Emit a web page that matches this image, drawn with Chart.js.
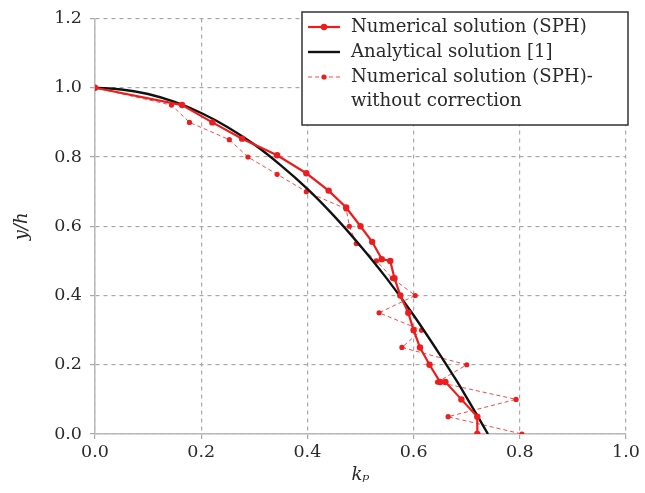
<!DOCTYPE html>
<html>
<head>
<meta charset="utf-8">
<script src="https://cdn.jsdelivr.net/npm/chart.js@4"></script>
<style>
  html, body { margin: 0; padding: 0; background: #fff; }
  #wrap { width: 645px; height: 493px; }
</style>
</head>
<body>
<div id="wrap"><canvas id="profileChart" width="645" height="493"></canvas></div>
<script>
// Numerical solution (SPH)
const sphX = [0, 0.164, 0.221, 0.277, 0.343, 0.398, 0.44, 0.473, 0.50, 0.522, 0.54, 0.556, 0.564, 0.575, 0.59, 0.60, 0.612, 0.63, 0.65, 0.66, 0.69, 0.72, 0.72];
const sphY = [1.0, 0.95, 0.90, 0.853, 0.805, 0.753, 0.703, 0.654, 0.60, 0.555, 0.505, 0.50, 0.45, 0.40, 0.35, 0.30, 0.25, 0.20, 0.15, 0.15, 0.10, 0.05, 0.0];

// Analytical solution [1]
const anaX = [0, 0.05, 0.1, 0.15, 0.2, 0.25, 0.3, 0.35, 0.4, 0.45, 0.5, 0.55, 0.6, 0.65, 0.68, 0.7, 0.72, 0.74];
const anaY = [1.0, 0.995, 0.982, 0.959, 0.927, 0.886, 0.836, 0.776, 0.708, 0.630, 0.543, 0.448, 0.343, 0.228, 0.156, 0.105, 0.053, 0.0];

// Numerical solution (SPH) - without correction
const rawX = [0, 0.144, 0.178, 0.253, 0.288, 0.343, 0.398, 0.473, 0.479, 0.492, 0.53, 0.56, 0.603, 0.535, 0.615, 0.578, 0.70, 0.645, 0.793, 0.665, 0.804];
const rawY = [1.0, 0.95, 0.90, 0.85, 0.80, 0.75, 0.70, 0.65, 0.60, 0.55, 0.50, 0.45, 0.40, 0.35, 0.30, 0.25, 0.20, 0.15, 0.10, 0.05, 0.0];

const xTicks = [0, 0.2, 0.4, 0.6, 0.8, 1.0];
const yTicks = [0, 0.2, 0.4, 0.6, 0.8, 1.0, 1.2];

const legendLabels = ['Numerical solution (SPH)', 'Analytical solution [1]', ['Numerical solution (SPH)-', 'without correction']];

const toPoints = (xs, ys) => xs.map((x, i) => ({ x: x, y: ys[i] }));

const serif = "'DejaVu Serif', 'Liberation Serif', serif";
const gridGray = '#a8a8a8';

// Boxed legend drawn in the top right corner
const boxLegend = {
    id: 'boxLegend',
    afterDraw(chart) {
        const ctx = chart.ctx;
        const x0 = 302, y0 = 12, w = 326, h = 113;
        ctx.save();
        ctx.fillStyle = '#fff';
        ctx.fillRect(x0, y0, w, h);
        ctx.strokeStyle = '#333';
        ctx.lineWidth = 1.5;
        ctx.strokeRect(x0, y0, w, h);

        // size the text so the first label spans the same width as in the original
        ctx.font = "20px " + serif;
        const measured = ctx.measureText(legendLabels[0]).width;
        const size = Math.min(21, 20 * 236 / measured);

        const rows = [27, 52, 77];
        chart.data.datasets.forEach((ds, i) => {
            const y = rows[i];
            ctx.strokeStyle = ds.borderColor;
            ctx.lineWidth = ds.borderWidth;
            ctx.setLineDash(ds.borderDash || []);
            ctx.beginPath();
            ctx.moveTo(308, y);
            ctx.lineTo(340, y);
            ctx.stroke();
            ctx.setLineDash([]);
            if (ds.pointRadius > 0) {
                ctx.fillStyle = ds.pointBackgroundColor;
                ctx.beginPath();
                ctx.arc(324, y, ds.pointRadius, 0, Math.PI * 2);
                ctx.fill();
            }
            ctx.fillStyle = '#2a2a2a';
            ctx.font = size.toFixed(1) + "px " + serif;
            ctx.textBaseline = 'middle';
            const lines = Array.isArray(legendLabels[i]) ? legendLabels[i] : [legendLabels[i]];
            lines.forEach((t, j) => ctx.fillText(t, 351, y + j * 24));
        });
        ctx.restore();
    }
};

new Chart(document.getElementById('profileChart'), {
    type: 'scatter',
    data: {
        datasets: [{
            label: legendLabels[0],
            data: toPoints(sphX, sphY),
            showLine: true,
            borderColor: '#ee1c1c',
            borderWidth: 2.2,
            pointRadius: 3.2,
            pointBackgroundColor: '#ee1c1c',
            pointBorderWidth: 0,
            order: 1
        }, {
            label: 'Analytical solution [1]',
            data: toPoints(anaX, anaY),
            showLine: true,
            borderColor: '#111',
            borderWidth: 2.4,
            pointRadius: 0,
            cubicInterpolationMode: 'monotone',
            order: 2
        }, {
            label: 'Numerical solution (SPH)-without correction',
            data: toPoints(rawX, rawY),
            showLine: true,
            borderColor: '#f24a4a',
            borderWidth: 1,
            borderDash: [4, 3],
            pointRadius: 2.6,
            pointBackgroundColor: '#ee1c1c',
            pointBorderWidth: 0,
            order: 3
        }]
    },
    options: {
        responsive: false,
        animation: false,
        layout: { padding: { left: 0, right: 19, top: 11, bottom: 0 } },
        plugins: {
            legend: { display: false },
            tooltip: { enabled: false }
        },
        scales: {
            x: {
                type: 'linear',
                min: 0,
                max: 1.0,
                afterBuildTicks: scale => { scale.ticks = xTicks.map(v => ({ value: v })); },
                afterFit: scale => { scale.height = 59; },
                ticks: {
                    padding: 3,
                    color: '#2a2a2a',
                    font: { family: serif, size: 17.5 },
                    callback: v => v.toFixed(1)
                },
                grid: {
                    color: gridGray,
                    lineWidth: 1.2,
                    tickLength: 5,
                    tickBorderDash: [],
                    tickColor: gridGray
                },
                border: { display: true, color: '#b8b8b8', width: 1.5, dash: [4, 4] },
                title: {
                    display: true,
                    text: 'kₚ',
                    color: '#2a2a2a',
                    font: { family: serif, size: 18, style: 'italic' },
                    padding: { top: 0, bottom: 7 }
                }
            },
            y: {
                type: 'linear',
                min: 0,
                max: 1.2,
                afterBuildTicks: scale => { scale.ticks = yTicks.map(v => ({ value: v })); },
                afterFit: scale => { scale.width = 95; },
                ticks: {
                    padding: 8,
                    color: '#2a2a2a',
                    font: { family: serif, size: 17.5 },
                    callback: v => v.toFixed(1)
                },
                grid: {
                    color: gridGray,
                    lineWidth: 1.2,
                    tickLength: 5,
                    tickBorderDash: [],
                    tickColor: gridGray
                },
                border: { display: true, color: '#b8b8b8', width: 1.5, dash: [4, 4] },
                title: {
                    display: true,
                    text: 'y/h',
                    color: '#2a2a2a',
                    font: { family: serif, size: 18, style: 'italic' },
                    padding: { top: 12, bottom: 0 }
                }
            }
        }
    },
    plugins: [boxLegend]
});
</script>
</body>
</html>
